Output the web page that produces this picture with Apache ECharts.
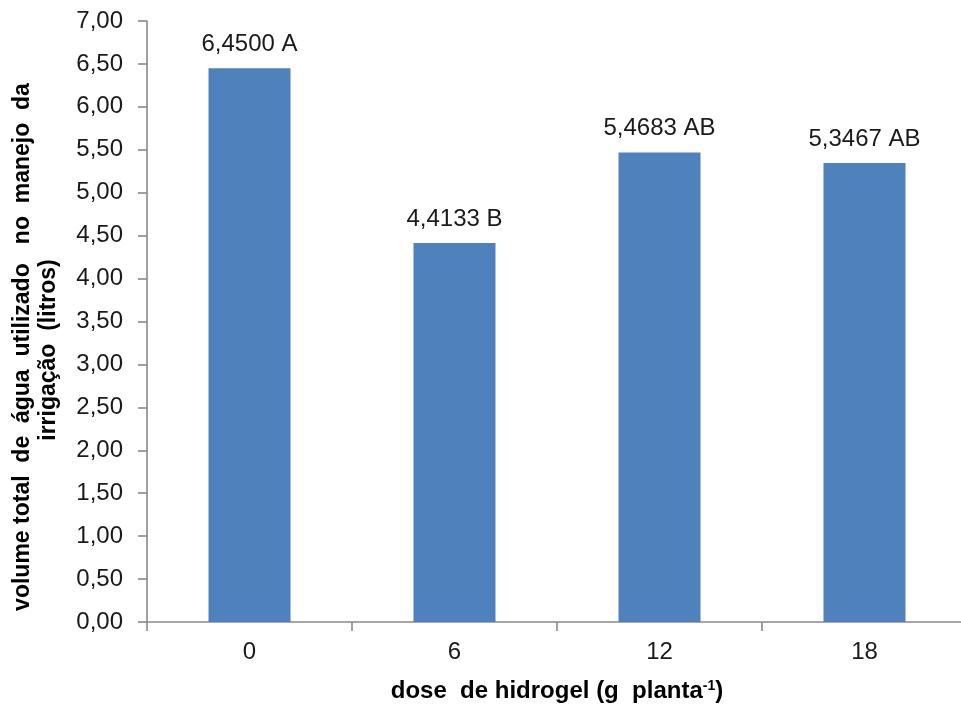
<!DOCTYPE html>
<html>
<head>
<meta charset="utf-8">
<script src="https://cdn.jsdelivr.net/npm/echarts@6/dist/echarts.min.js"></script>
<style>
  html, body { margin: 0; padding: 0; background: #fff; }
  #chart { width: 961px; height: 711px; }
</style>
</head>
<body>
<div id="chart"></div>
<script>
// Hydrogel doses (g per plant) and total irrigation water used (litres)
const doses = ['0', '6', '12', '18'];
const waterVolume = [6.4500, 4.4133, 5.4683, 5.3467];
const groupLetters = ['A', 'B', 'AB', 'AB'];
const yTicks = { min: 0, max: 7, step: 0.5 };
const yTitleLines = ['volume total  de  água  utilizado   no  manejo  da', 'irrigação  (litros)'];

const fmtComma = (v, d) => v.toFixed(d).replace('.', ',');

const chart = echarts.init(document.getElementById('chart'));
const FONT = '"Liberation Sans", Arial, sans-serif';
const AXIS_GREY = '#8a8a8a';
const TEXT = '#1a1a1a';

chart.setOption({
  animation: false,
  backgroundColor: '#ffffff',
  grid: { left: 147, top: 21, bottom: 89, right: -6, containLabel: false, outerBoundsMode: 'none' },
  xAxis: {
    type: 'category',
    data: doses,
    boundaryGap: true,
    axisLine: { lineStyle: { color: AXIS_GREY, width: 1.6 } },
    axisTick: { show: true, length: 9, lineStyle: { color: AXIS_GREY, width: 1.6 } },
    axisLabel: { color: TEXT, fontFamily: FONT, fontSize: 24, margin: 18 },
    name: '{b|dose  de hidrogel (g  planta}{s|-1}{b|)}',
    nameLocation: 'middle',
    nameGap: 57,
    nameTextStyle: {
      rich: {
        b: { fontFamily: FONT, fontSize: 24, fontWeight: 'bold', color: '#000' },
        s: { fontFamily: FONT, fontSize: 14, fontWeight: 'bold', color: '#000', verticalAlign: 'top', padding: [0, 0, 10, 0] }
      }
    }
  },
  yAxis: {
    type: 'value',
    min: yTicks.min,
    max: yTicks.max,
    interval: yTicks.step,
    splitLine: { show: false },
    axisLine: { show: true, lineStyle: { color: AXIS_GREY, width: 1.6 } },
    axisTick: { show: true, length: 9, lineStyle: { color: AXIS_GREY, width: 1.6 } },
    axisLabel: {
      color: TEXT, fontFamily: FONT, fontSize: 24, margin: 24,
      formatter: v => fmtComma(v, 2)
    }
  },
  // Two-line rotated y-axis title
  graphic: yTitleLines.map((line, i) => ({
    type: 'text',
    x: 23 + i * 26,
    y: i === 0 ? 347 : 350,
    rotation: Math.PI / 2,
    style: {
      text: line,
      fontFamily: FONT,
      fontSize: 23,
      fontWeight: 'bold',
      fill: '#000',
      textAlign: 'center',
      textVerticalAlign: 'middle'
    }
  })),
  series: [{
    type: 'bar',
    data: waterVolume,
    barWidth: '40%',
    itemStyle: { color: '#4f81bd' },
    label: {
      show: true,
      position: 'top',
      distance: 12,
      color: TEXT,
      fontFamily: FONT,
      fontSize: 24,
      formatter: p => fmtComma(p.value, 4) + ' ' + groupLetters[p.dataIndex]
    }
  }]
});
</script>
</body>
</html>
